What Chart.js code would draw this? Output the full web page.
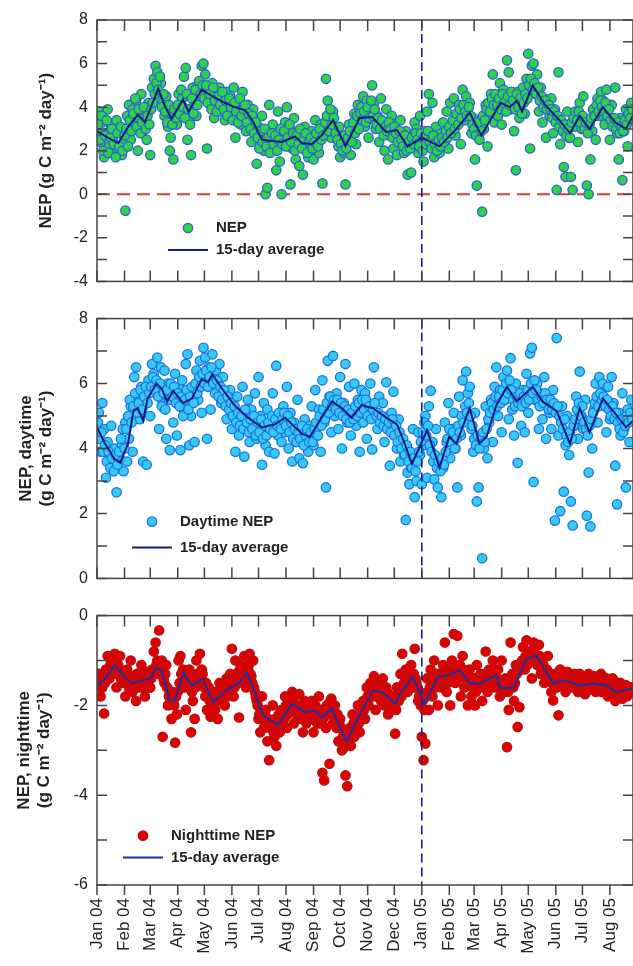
<!DOCTYPE html>
<html>
<head>
<meta charset="utf-8">
<script src="https://cdn.jsdelivr.net/npm/chart.js@4.4.1/dist/chart.umd.min.js"></script>
<style>
  body { margin: 0; background: #fff; }
  #wrap { position: relative; width: 633px; height: 966px; overflow: hidden; }
  canvas { position: absolute; left: 0; }
</style>
</head>
<body>
<div id="wrap">
  <canvas id="nepChart" width="633" height="300" style="top:0"></canvas>
  <canvas id="dayChart" width="633" height="297" style="top:300px"></canvas>
  <canvas id="nightChart" width="633" height="369" style="top:597px"></canvas>
</div>
<script>
// days counted from 1 Jan 2004
const monthStartDays = [0, 31, 60, 91, 121, 152, 182, 213, 244, 274, 305, 335, 366, 397, 425, 456, 486, 517, 547, 578];
const monthLabels = ['Jan 04', 'Feb 04', 'Mar 04', 'Apr 04', 'May 04', 'Jun 04', 'Jul 04', 'Aug 04', 'Sep 04', 'Oct 04', 'Nov 04', 'Dec 04',
  'Jan 05', 'Feb 05', 'Mar 05', 'Apr 05', 'May 05', 'Jun 05', 'Jul 05', 'Aug 05'];
const yearBreakDay = 366;
const lastDay = 604;

// daily observations, split into even days (0, 2, 4 ...) and odd days (1, 3, 5 ...)
const obsStepDays = 2;

const nepEven = [
  2.9, 3.8, 2.4, 3.3, 1.7, 2.8, 3.9, 2.2, 3.1, 2.6, 1.9, 3.4, 2.1, 2.9, 1.8,
  2.4, -0.75, 3.6, 4.1, 2.5, 3.9, 3.2, 4.3, 2.0, 3.5, 4.6, 2.9, 3.8, 2.5, 4.2,
  1.8, 4.9, 5.3, 5.9, 5.6, 4.4, 5.1, 4.2, 3.6, 4.5, 3.1, 2.0, 3.7, 1.6, 4.0,
  3.2, 4.6, 3.9, 4.4, 5.4, 5.8, 2.5, 3.4, 1.8, 4.9, 4.2, 3.6, 5.0, 4.5, 5.9,
  6.0, 5.5, 2.1, 4.8, 4.3, 5.1, 3.5, 4.6, 4.0, 4.9, 3.8, 4.4, 3.4, 4.7, 4.1,
  4.5, 3.6, 4.9, 2.6, 3.9, 4.3, 3.2, 4.7, 3.7, 2.9, 4.1, 3.5, 2.4, 3.9, 3.1,
  1.4, 3.1, 2.5, 3.6, 2.0, 0.0, 0.3, 4.1, 2.7, 3.2, 2.2, 1.1, 3.8, 1.5, 0.0,
  2.4, 3.3, 4.0, 2.8, 0.45, 2.1, 3.5, 1.6, 2.9, 1.3, 2.6, 0.9, 3.1, 2.2, 1.7,
  2.0, 2.9, 1.6, 3.4, 2.5, 1.9, 3.2, 0.5, 2.8, 5.3, 4.3, 3.5, 2.6, 3.8, 2.9,
  3.0, 2.2, 1.7, 2.6, 1.9, 0.45, 2.4, 3.2, 1.8, 2.9, 3.7, 2.3, 4.1, 3.3, 4.0,
  4.5, 3.1, 4.3, 2.6, 3.8, 5.0, 4.2, 3.0, 3.6, 2.4, 4.4, 3.3, 2.0, 3.9, 1.6,
  2.7, 3.6, 2.1, 3.2, 1.8, 2.6, 3.4, 2.3, 1.9, 2.9, 0.9, 2.2, 1.0, 2.7, 3.3,
  3.0, 1.9, 3.6, 2.4, 1.5, 2.9, 3.8, 4.6, 2.2, 4.2, 1.7, 3.1, 2.5, 1.9, 2.8,
  3.3, 2.4, 3.8, 2.1, 4.2, 3.0, 4.4, 2.7, 3.6, 4.1, 2.3, 4.8, 3.4, 4.5, 3.9,
  4.2, 2.8, 3.5, 1.6, 0.4, 2.6, 3.2, -0.8, 3.0, 4.1, 2.2, 3.7, 4.6, 5.5, 3.3,
  4.5, 3.6, 5.1, 3.2, 4.8, 4.0, 6.15, 5.6, 3.9, 4.4, 2.9, 1.1, 4.7, 3.5, 4.2,
  4.9, 3.7, 5.3, 6.45, 2.1, 5.9, 6.0, 4.6, 5.5, 3.8, 4.9, 3.3, 4.4, 2.6, 4.0,
  3.6, 4.4, 2.8, 3.9, 0.2, 5.6, 2.3, 3.3, 1.25, 0.8, 3.8, 2.6, 0.8, 0.2, 3.1,
  3.7, 2.4, 4.2, 3.0, 4.5, 3.4, 0.4, 0.0, 1.6, 2.9, 3.8, 2.5, 4.4, 3.6, 4.7,
  4.3, 3.2, 4.8, 3.6, 2.5, 4.1, 3.3, 4.9, 2.8, 1.6, 3.5, 0.65, 2.9, 3.9, 2.2, 3.4, 4.2
];
const nepOdd = [
  3.2, 2.5, 3.6, 2.0, 2.7, 3.4, 1.9, 2.6, 3.0, 2.3, 1.7, 2.8, 2.2, 3.1, 2.0,
  2.7, 3.0, 2.2, 3.4, 2.9, 3.7, 4.4, 3.1, 3.9, 2.8, 3.3, 4.0, 3.0, 3.6, 3.2,
  3.9, 4.2, 4.6, 5.1, 4.8, 5.4, 4.0, 4.6, 3.8, 3.3, 4.1, 2.6, 3.2, 3.9, 3.5,
  4.1, 3.7, 4.8, 4.0, 3.5, 4.6, 3.9, 3.2, 4.4, 3.7, 4.8, 4.1, 5.2, 4.6, 5.0,
  4.4, 5.0, 4.2, 4.6, 3.9, 4.9, 4.3, 3.8, 4.5, 4.1, 4.7, 3.9, 4.3, 3.6, 4.4,
  4.0, 3.4, 4.2, 3.8, 3.3, 4.4, 3.6, 3.9, 4.1, 3.3, 3.7, 3.0, 3.6, 2.8, 3.3,
  2.6, 2.1, 2.9, 2.4, 3.0, 2.2, 2.6, 1.9, 2.8, 2.3, 2.7, 2.0, 2.5, 3.0, 2.3,
  2.9, 2.2, 2.6, 3.2, 2.4, 2.8, 2.0, 2.7, 2.3, 3.0, 2.1, 2.5, 2.8, 1.9, 2.4,
  2.6, 2.1, 2.4, 2.8, 2.2, 3.0, 2.5, 2.7, 3.3, 3.6, 2.9, 3.9, 3.2, 3.5, 2.8,
  2.5, 3.1, 2.3, 2.0, 2.7, 2.1, 2.6, 2.9, 2.4, 3.3, 2.8, 3.6, 3.0, 3.7, 3.4,
  3.8, 3.3, 4.0, 3.5, 4.3, 3.6, 3.9, 3.2, 3.5, 3.0, 3.4, 2.7, 3.1, 2.9, 3.3,
  3.0, 2.6, 3.1, 2.8, 2.4, 2.9, 2.5, 2.2, 2.7, 2.0, 2.4, 2.1, 2.6, 2.3, 2.8,
  2.5, 2.2, 2.8, 2.0, 2.6, 2.3, 2.9, 2.4, 2.1, 2.7, 2.3, 2.0, 2.5, 2.2, 2.6,
  2.4, 2.9, 2.6, 3.1, 2.8, 3.4, 3.0, 3.7, 3.2, 3.9, 3.5, 4.1, 3.8, 3.6, 4.0,
  3.6, 3.2, 3.0, 2.7, 3.3, 2.5, 2.9, 3.6, 3.4, 3.9, 4.2, 3.8, 4.4, 4.1, 4.6,
  4.1, 4.4, 3.9, 4.6, 4.2, 3.8, 4.5, 4.1, 4.7, 4.3, 3.9, 4.6, 4.0, 4.4, 3.7,
  4.2, 4.6, 4.4, 5.0, 5.3, 4.8, 5.1, 4.6, 4.9, 4.3, 4.5, 4.0, 4.3, 3.9, 4.1,
  3.9, 3.5, 3.8, 3.3, 3.6, 3.1, 3.4, 2.9, 3.2, 2.7, 3.0, 2.6, 3.3, 3.5, 3.8,
  3.4, 3.8, 3.3, 3.6, 3.0, 3.3, 2.8, 3.2, 3.5, 3.9, 3.6, 4.1, 3.8, 4.3, 4.0,
  3.8, 4.2, 3.6, 3.9, 3.4, 3.1, 3.5, 3.0, 3.3, 2.8, 3.1, 2.9, 3.4, 3.2, 3.7, 3.5, 3.9
];
const nepAvgDays = [0, 12, 24, 35, 46, 54, 69, 76, 84, 97, 103, 118, 130, 144, 155, 167, 175, 186, 197, 208,
  223, 231, 242, 253, 266, 280, 296, 310, 326, 338, 350, 366, 386, 405, 420, 433, 455, 465, 473, 479,
  491, 505, 521, 533, 544, 555, 570, 584, 596, 604];
const nepAvg = [2.9, 2.6, 2.35, 3.1, 3.65, 3.3, 4.85, 4.1, 3.45, 4.35, 3.8, 4.8, 4.5, 4.2, 4.0, 3.85, 3.4, 2.5, 2.45, 2.4,
  2.65, 2.35, 2.3, 2.7, 3.4, 2.2, 3.5, 3.55, 2.85, 2.95, 2.2, 2.6, 2.2, 3.0, 3.75, 2.7, 4.2, 4.0, 4.3, 3.8,
  5.0, 4.1, 3.4, 2.8, 3.6, 3.0, 4.0, 3.3, 3.0, 3.6];

const dayEven = [
  4.4, 5.1, 3.9, 5.4, 4.6, 3.1, 4.2, 3.8, 4.7, 3.5, 4.0, 2.65, 3.4, 3.7, 4.1,
  3.3, 4.8, 3.6, 4.3, 5.3, 3.9, 6.2, 6.5, 5.6, 4.9, 5.9, 3.6, 5.4, 3.5, 6.1,
  5.0, 6.6, 6.3, 5.8, 6.8, 4.6, 6.5, 5.4, 6.4, 4.3, 6.0, 3.95, 5.7, 4.8, 6.3,
  4.4, 5.9, 3.95, 6.1, 5.2, 6.6, 6.9, 4.1, 5.0, 5.8, 4.2, 6.4, 5.5, 6.7, 5.1,
  7.1, 6.8, 4.3, 6.5, 5.2, 6.9, 6.0, 6.4, 5.8, 6.6, 5.4, 6.2, 5.7, 4.9, 5.6,
  5.8, 4.6, 5.3, 3.9, 5.6, 4.4, 5.1, 5.9, 3.75, 4.9, 5.5, 4.2, 5.2, 4.7, 5.7,
  4.3, 6.2, 5.0, 3.5, 5.4, 4.1, 5.2, 3.9, 4.6, 5.7, 3.85, 6.55, 4.4, 5.0, 4.2,
  5.3, 4.5, 5.9, 4.0, 5.1, 3.6, 4.8, 4.2, 5.5, 3.7, 4.6, 3.55, 4.9, 4.1, 3.9,
  4.7, 5.3, 4.1, 5.8, 4.4, 5.2, 3.9, 6.1, 4.8, 2.8, 6.7, 5.6, 4.5, 6.85, 5.0,
  5.7, 4.6, 6.2, 4.0, 5.4, 6.6, 4.8, 5.9, 4.4, 5.1, 6.0, 4.7, 5.5, 3.9, 5.8,
  4.8, 5.7, 4.3, 5.3, 6.0, 3.97, 6.5, 5.1, 4.6, 5.6, 4.9, 5.4, 4.2, 6.04, 5.0,
  3.47, 5.1, 5.75, 4.4, 4.0, 4.9, 3.6, 4.3, 3.8, 1.8, 3.26, 2.9, 3.4, 4.6, 2.5,
  3.0, 4.5, 3.8, 2.9, 4.1, 5.0, 3.1, 5.3, 5.78, 4.2, 3.05, 4.6, 2.8, 3.6, 2.5,
  3.4, 4.8, 4.2, 5.4, 3.7, 4.6, 5.1, 4.0, 2.8, 5.6, 4.4, 6.1, 5.0, 6.37, 5.7,
  5.9, 4.6, 3.9, 5.1, 2.37, 2.8, 4.3, 0.62, 4.0, 5.3, 3.7, 4.8, 5.5, 4.2, 5.9,
  6.5, 5.0, 5.8, 4.5, 6.2, 5.5, 6.4, 4.9, 6.78, 5.2, 4.4, 6.0, 3.56, 5.6, 4.7,
  5.8, 4.5, 6.3, 5.1, 6.93, 7.1, 2.97, 5.5, 6.0, 4.6, 5.7, 4.9, 6.2, 4.3, 5.3,
  5.1, 4.6, 5.8, 1.78, 7.4, 4.4, 2.07, 5.3, 2.67, 4.1, 5.0, 3.8, 2.37, 1.63, 4.7,
  5.6, 4.3, 6.37, 5.0, 4.6, 5.5, 1.93, 3.26, 1.6, 4.0, 5.2, 6.0, 4.8, 6.2, 5.7,
  6.0, 5.3, 4.5, 5.9, 4.9, 6.2, 5.4, 3.47, 2.28, 5.1, 4.4, 5.7, 4.6, 2.8, 5.2, 4.2, 5.5
];
const dayOdd = [
  4.8, 4.3, 4.5, 3.9, 4.1, 3.6, 3.9, 3.4, 3.7, 3.3, 3.8, 3.5, 3.9, 4.3, 4.6,
  4.0, 4.6, 5.0, 5.5, 4.8, 5.3, 5.7, 5.1, 5.4, 5.8, 5.2, 5.6, 5.9, 5.4, 5.7,
  5.9, 6.2, 5.8, 6.1, 5.6, 6.0, 5.3, 5.7, 5.2, 5.8, 5.5, 6.0, 5.6, 5.9, 5.4,
  5.7, 5.3, 5.6, 5.0, 5.5, 5.8, 5.2, 5.6, 5.9, 5.4, 6.0, 5.7, 6.2, 5.9, 6.3,
  6.0, 6.4, 5.9, 6.2, 6.5, 6.0, 5.7, 6.1, 5.6, 5.9, 5.5, 5.8, 5.3, 5.6, 5.2,
  5.4, 5.0, 5.3, 4.8, 5.1, 4.7, 5.0, 4.6, 5.2, 4.8, 4.5, 4.9, 4.6, 5.0, 4.4,
  4.8, 4.5, 4.9, 4.3, 4.7, 4.4, 4.8, 4.6, 5.0, 4.5, 4.9, 4.7, 5.1, 4.6, 4.9,
  5.1, 4.7, 5.0, 4.5, 4.8, 4.3, 4.6, 4.2, 4.5, 4.3, 4.7, 4.1, 4.4, 4.6, 4.2,
  4.5, 4.2, 4.6, 4.8, 4.4, 5.0, 4.7, 5.2, 4.9, 5.4, 5.1, 5.6, 5.3, 5.5, 5.2,
  5.5, 5.1, 5.4, 5.0, 5.3, 4.9, 5.2, 4.8, 5.1, 4.9, 5.3, 5.0, 5.4, 5.1, 5.5,
  5.2, 5.5, 5.0, 5.3, 4.9, 5.2, 5.4, 5.0, 5.1, 4.8, 5.0, 4.7, 4.9, 4.6, 4.8,
  4.5, 4.9, 4.4, 4.7, 4.2, 4.5, 4.0, 4.3, 3.8, 4.1, 3.6, 3.9, 3.4, 3.7, 3.3,
  3.6, 3.9, 4.2, 4.5, 4.8, 4.4, 4.7, 4.1, 3.9, 3.6, 3.8, 3.4, 3.6, 3.3, 3.7,
  3.5, 3.9, 4.3, 4.6, 4.2, 4.5, 4.0, 4.3, 4.7, 4.5, 5.0, 4.8, 5.3, 5.1, 5.4,
  5.0, 4.7, 4.3, 4.1, 4.4, 4.0, 4.3, 4.5, 4.2, 4.6, 4.9, 5.1, 5.4, 5.2, 5.6,
  5.3, 5.6, 5.4, 5.8, 5.5, 6.0, 5.7, 6.1, 5.8, 5.5, 5.3, 5.6, 5.4, 5.7, 5.3,
  5.6, 5.4, 5.8, 5.5, 6.0, 5.7, 6.1, 5.8, 5.5, 5.3, 5.6, 5.4, 5.7, 5.5, 5.2,
  5.5, 5.2, 5.4, 5.1, 5.3, 5.0, 4.8, 4.6, 4.9, 4.4, 4.2, 4.5, 4.3, 4.7, 4.9,
  5.2, 5.4, 5.0, 5.3, 4.8, 4.6, 4.4, 4.7, 4.9, 5.1, 5.4, 5.6, 5.3, 5.7, 5.5,
  5.6, 5.3, 5.5, 5.2, 5.0, 5.3, 4.9, 5.1, 4.8, 4.6, 4.9, 4.5, 4.7, 5.0, 4.8, 5.1, 4.9
];
const dayAvgDays = [0, 9, 20, 26, 35, 41, 46, 52, 57, 67, 73, 79, 86, 97, 107, 118, 125, 130, 141, 155,
  170, 186, 200, 212, 231, 240, 253, 265, 276, 287, 298, 311, 326, 338, 345, 355, 372, 386, 397, 405,
  420, 431, 439, 450, 462, 473, 491, 502, 518, 533, 544, 555, 570, 585, 596, 604];
const dayAvg = [4.65, 4.15, 3.67, 3.56, 4.15, 5.15, 5.24, 4.85, 5.54, 6.0, 5.84, 5.45, 5.78, 5.4, 5.54, 6.13, 6.04, 6.28, 5.84, 5.33,
  4.95, 4.65, 4.74, 4.95, 4.45, 4.36, 4.95, 5.45, 5.24, 4.95, 5.33, 5.24, 4.95, 4.74, 4.27, 3.53, 4.56, 3.41, 4.36, 4.15,
  5.24, 4.15, 4.36, 5.33, 5.9, 5.45, 5.9, 5.45, 5.15, 4.15, 5.24, 4.5, 5.54, 5.04, 4.65, 4.85];

const nightEven = [
  -1.5, -1.3, -1.8, -1.6, -2.18, -1.2, -0.9, -1.4, -1.0, -1.3, -0.85, -1.6, -1.1, -0.9, -1.35,
  -1.5, -1.8, -1.2, -1.6, -1.0, -1.7, -1.4, -1.9, -1.3, -1.6, -1.1, -1.5, -1.8, -1.25, -1.6,
  -1.6, -1.2, -0.8, -0.6, -1.0, -0.33, -1.3, -2.7, -1.5, -1.1, -2.0, -1.7, -2.3, -1.9, -2.83,
  -2.2, -1.0, -0.9, -1.3, -1.6, -2.1, -1.4, -1.2, -2.6, -1.9, -2.3, -1.0, -1.45, -0.85, -1.2,
  -1.5, -1.8, -2.1, -1.6, -2.25, -1.9, -2.0, -1.7, -2.3, -1.5, -1.9, -1.6, -2.0, -1.4, -1.75,
  -1.3, -0.74, -1.8, -1.0, -1.5, -2.27, -1.1, -1.4, -0.9, -1.6, -1.2, -0.85, -1.35, -1.0, -1.7,
  -1.9, -2.3, -2.6, -1.8, -2.5, -2.1, -2.8, -3.22, -2.4, -2.0, -2.7, -2.9, -2.3, -2.6, -2.1,
  -2.2, -1.8, -2.5, -1.9, -2.1, -1.7, -2.4, -2.0, -2.3, -1.75, -2.2, -2.6, -1.9, -2.4, -2.05,
  -2.3, -1.9, -2.6, -2.0, -2.4, -1.8, -2.2, -3.5, -3.67, -2.5, -2.1, -3.3, -1.85, -2.4, -2.0,
  -2.5, -2.8, -2.3, -3.0, -2.95, -3.56, -3.8, -2.6, -2.9, -2.2, -2.7, -2.4, -2.0, -2.6, -2.2,
  -1.9, -2.3, -1.6, -2.0, -1.5, -1.8, -1.35, -2.1, -1.7, -1.5, -1.9, -1.4, -2.0, -1.6, -2.2,
  -2.1, -1.8, -2.0, -2.63, -1.6, -1.9, -1.3, -0.85, -1.5, -1.2, -1.7, -1.4, -1.1, -1.6, -0.74,
  -1.5, -1.9, -1.7, -2.7, -3.22, -2.85, -1.4, -2.1, -1.2, -1.8, -1.0, -1.5, -2.0, -1.3, -1.6,
  -1.1, -0.6, -1.7, -1.3, -2.0, -1.0, -0.41, -1.5, -0.45, -1.2, -1.8, -0.9, -1.6, -1.3, -2.0,
  -1.2, -1.8, -1.4, -2.0, -1.1, -1.6, -1.3, -1.9, -1.5, -0.8, -1.7, -1.2, -1.45, -1.0, -1.6,
  -1.5, -1.2, -1.8, -1.0, -1.6, -1.4, -2.93, -2.1, -0.6, -1.3, -1.9, -1.1, -2.48, -2.04, -1.2,
  -0.7, -1.2, -0.55, -1.0, -0.8, -1.4, -0.6, -0.9, -1.1, -0.65, -1.3, -1.0, -1.5, -1.2, -0.9,
  -1.4, -1.7, -1.89, -1.3, -1.6, -2.22, -1.2, -1.5, -1.35, -1.7, -1.25, -1.55, -1.4, -1.6, -1.3,
  -1.5, -1.7, -1.3, -1.6, -1.4, -1.75, -1.45, -1.3, -1.6, -1.5, -1.35, -1.7, -1.45, -1.55, -1.3,
  -1.5, -1.65, -1.4, -1.8, -1.55, -1.7, -1.45, -1.9, -1.6, -1.75, -1.5, -1.85, -1.65, -1.55, -1.75, -1.6, -1.7
];
const nightOdd = [
  -1.5, -1.4, -1.6, -1.3, -1.5, -1.2, -1.3, -1.1, -1.0, -1.2, -1.1, -1.3, -1.2, -1.4, -1.3,
  -1.4, -1.5, -1.3, -1.6, -1.5, -1.4, -1.6, -1.3, -1.5, -1.4, -1.6, -1.3, -1.5, -1.4, -1.6,
  -1.4, -1.3, -1.2, -1.1, -1.3, -1.2, -1.0, -1.4, -1.3, -1.6, -1.8, -1.9, -1.7, -2.0, -1.8,
  -1.7, -1.5, -1.3, -1.2, -1.4, -1.3, -1.6, -1.5, -1.7, -1.4, -1.6, -1.3, -1.5, -1.4, -1.3,
  -1.6, -1.5, -1.8, -1.9, -2.0, -1.8, -2.1, -1.9, -1.7, -1.8, -1.6, -1.7, -1.5, -1.8, -1.6,
  -1.5, -1.4, -1.6, -1.3, -1.5, -1.2, -1.4, -1.3, -1.2, -1.4, -1.1, -1.3, -1.5, -1.6, -1.8,
  -2.0, -2.2, -2.1, -2.3, -2.2, -2.4, -2.3, -2.5, -2.4, -2.6, -2.3, -2.5, -2.2, -2.4, -2.1,
  -2.3, -2.0, -2.2, -1.9, -2.1, -2.0, -1.8, -2.1, -2.2, -2.0, -2.3, -2.1, -2.2, -2.0, -2.3,
  -2.1, -2.2, -2.0, -2.3, -2.2, -2.4, -2.1, -2.3, -2.2, -2.0, -2.2, -1.9, -2.1, -2.0, -2.2,
  -2.2, -2.4, -2.5, -2.7, -2.6, -2.8, -2.7, -2.5, -2.6, -2.4, -2.5, -2.3, -2.4, -2.2, -2.3,
  -2.1, -1.9, -1.8, -1.7, -1.8, -1.6, -1.7, -1.8, -1.6, -1.7, -1.9, -1.6, -1.8, -1.7, -1.9,
  -1.9, -2.0, -1.8, -2.1, -1.9, -1.7, -1.8, -1.6, -1.7, -1.5, -1.6, -1.4, -1.5, -1.3, -1.4,
  -1.6, -1.8, -2.0, -1.9, -2.1, -1.8, -1.7, -1.6, -1.5, -1.4, -1.6, -1.3, -1.5, -1.4, -1.3,
  -1.4, -1.3, -1.5, -1.2, -1.4, -1.3, -1.1, -1.2, -1.4, -1.1, -1.3, -1.2, -1.4, -1.5, -1.3,
  -1.5, -1.6, -1.4, -1.7, -1.5, -1.6, -1.4, -1.5, -1.3, -1.6, -1.4, -1.5, -1.3, -1.4, -1.2,
  -1.4, -1.6, -1.5, -1.7, -1.6, -1.5, -1.7, -1.6, -1.4, -1.6, -1.5, -1.3, -1.2, -1.1, -1.0,
  -1.0, -0.9, -1.1, -0.8, -1.0, -0.9, -0.8, -1.0, -1.1, -0.9, -1.2, -1.1, -1.3, -1.2, -1.4,
  -1.3, -1.5, -1.4, -1.6, -1.5, -1.4, -1.5, -1.3, -1.5, -1.4, -1.6, -1.5, -1.4, -1.5, -1.6,
  -1.6, -1.5, -1.4, -1.6, -1.5, -1.7, -1.6, -1.5, -1.4, -1.6, -1.5, -1.4, -1.6, -1.5, -1.7,
  -1.5, -1.6, -1.7, -1.5, -1.6, -1.4, -1.6, -1.7, -1.5, -1.8, -1.6, -1.7, -1.6, -1.8, -1.7, -1.6, -1.7
];
const nightAvgDays = [0, 9, 20, 28, 39, 51, 60, 67, 73, 82, 88, 97, 107, 119, 131, 146, 159, 169, 178, 187,
  204, 220, 234, 245, 253, 265, 281, 294, 311, 322, 336, 343, 356, 369, 384, 395, 409, 420, 431, 450,
  454, 469, 484, 495, 504, 514, 529, 544, 559, 574, 585, 604];
const nightAvg = [-1.56, -1.41, -1.11, -1.29, -1.51, -1.44, -1.41, -1.16, -1.22, -1.89, -1.89, -1.27, -1.56, -1.41, -1.93, -1.67, -1.51, -1.27, -1.71, -2.22,
  -2.44, -1.96, -2.15, -2.11, -2.27, -2.07, -2.81, -2.29, -1.67, -1.71, -1.96, -1.71, -1.37, -1.96, -1.37, -1.33, -1.22, -1.51, -1.51, -1.33,
  -1.6, -1.62, -0.96, -0.89, -1.18, -1.51, -1.44, -1.56, -1.51, -1.56, -1.71, -1.62];

const FONT = '"Liberation Sans", Arial, sans-serif';
Chart.defaults.font.family = FONT;
Chart.defaults.color = '#222';

function toPoints(evenVals, oddVals) {
  const pts = evenVals.map((v, i) => ({ x: i * obsStepDays, y: v }));
  oddVals.forEach((v, i) => pts.push({ x: i * obsStepDays + 1, y: v }));
  return pts;
}
function toLine(days, values) {
  return days.map((d, i) => ({ x: d, y: values[i] }));
}

// frame, inward ticks and the dashed reference lines
const frameTicks = {
  id: 'frameTicks',
  beforeDatasetsDraw(chart, args, opts) {
    if (!opts.zeroLine) return;
    const { ctx, chartArea: a, scales: { y } } = chart;
    const y0 = y.getPixelForValue(0);
    ctx.save();
    ctx.strokeStyle = '#e63a2e';
    ctx.lineWidth = 2;
    ctx.setLineDash([13, 7]);
    ctx.beginPath();
    ctx.moveTo(a.left, y0);
    ctx.lineTo(a.right, y0);
    ctx.stroke();
    ctx.restore();
  },
  afterDatasetsDraw(chart, args, opts) {
    const { ctx, chartArea: a, scales: { x, y } } = chart;
    ctx.save();
    const xb = x.getPixelForValue(yearBreakDay);
    ctx.strokeStyle = '#1b1f8a';
    ctx.lineWidth = 1.6;
    ctx.setLineDash([9, 5]);
    ctx.beginPath();
    ctx.moveTo(xb, a.top);
    ctx.lineTo(xb, a.bottom);
    ctx.stroke();
    ctx.setLineDash([]);
    ctx.strokeStyle = '#444';
    ctx.lineWidth = 1.5;
    ctx.strokeRect(a.left, a.top, a.right - a.left, a.bottom - a.top);
    ctx.beginPath();
    monthStartDays.forEach(d => {
      const px = x.getPixelForValue(d);
      ctx.moveTo(px, a.top);
      ctx.lineTo(px, a.top + 11);
      ctx.moveTo(px, a.bottom);
      ctx.lineTo(px, a.bottom + (opts.bottomOut ? 10 : -11));
    });
    for (let v = y.min; v <= y.max; v++) {
      const py = y.getPixelForValue(v);
      ctx.moveTo(a.left, py);
      ctx.lineTo(a.left + 10, py);
      ctx.moveTo(a.right, py);
      ctx.lineTo(a.right - 10, py);
    }
    ctx.stroke();
    ctx.restore();
  }
};

const panelLegend = {
  id: 'panelLegend',
  afterDraw(chart, args, opts) {
    const { ctx, chartArea: a } = chart;
    const avg = chart.data.datasets[0];
    const pts = chart.data.datasets[1];
    const mx = a.left + opts.x;
    const y1 = a.top + opts.y;
    const y2 = y1 + opts.gap;
    ctx.save();
    ctx.beginPath();
    ctx.arc(mx, y1, pts.pointRadius, 0, Math.PI * 2);
    ctx.fillStyle = pts.backgroundColor;
    ctx.fill();
    ctx.lineWidth = pts.borderWidth;
    ctx.strokeStyle = pts.borderColor;
    ctx.stroke();
    ctx.beginPath();
    ctx.moveTo(mx - 20, y2);
    ctx.lineTo(mx + 20, y2);
    ctx.lineWidth = avg.borderWidth;
    ctx.strokeStyle = avg.borderColor;
    ctx.stroke();
    ctx.fillStyle = '#222';
    ctx.font = 'bold 15px ' + FONT;
    ctx.textBaseline = 'middle';
    ctx.fillText(pts.label, mx + 28, y1);
    ctx.fillText(avg.label, mx + 28, y2);
    ctx.restore();
  }
};

function yAxis(min, max, title, titlePad) {
  return {
    type: 'linear', min: min, max: max,
    afterFit: s => { s.width = 97; },
    grid: { display: false, drawTicks: false },
    border: { display: false },
    ticks: {
      stepSize: 1, padding: 9, color: '#222', font: { size: 16 },
      callback: v => (v % 2 === 0 ? v : '')
    },
    title: {
      display: true, text: title, color: '#222',
      font: { size: 17, weight: 'bold' },
      padding: { top: titlePad, bottom: 0 }
    }
  };
}

function xAxis(showLabels) {
  const axis = {
    type: 'linear', min: 0, max: lastDay,
    display: showLabels,
    afterBuildTicks: s => { s.ticks = monthStartDays.map(v => ({ value: v })); },
    grid: { display: false, drawTicks: false },
    border: { display: false },
    ticks: {
      autoSkip: false, minRotation: 90, maxRotation: 90, padding: 13,
      color: '#222', font: { size: 17 },
      callback: v => monthLabels[monthStartDays.indexOf(v)]
    }
  };
  if (showLabels) {
    axis.afterFit = s => {
      s.height = 81;
      s.paddingLeft = 0;
      s.paddingRight = 0;
    };
  }
  return axis;
}

function makePanel(id, cfg) {
  new Chart(document.getElementById(id), {
    type: 'scatter',
    data: {
      datasets: [
        {
          type: 'line', label: '15-day average', data: cfg.avg,
          borderColor: cfg.lineColor, borderWidth: 2, pointRadius: 0, tension: 0, fill: false
        },
        {
          label: cfg.label, data: cfg.points,
          pointRadius: 4.7, backgroundColor: cfg.fill, borderColor: cfg.edge, borderWidth: 1.3
        }
      ]
    },
    options: {
      responsive: false,
      animation: false,
      layout: { padding: cfg.padding, autoPadding: false },
      scales: { x: xAxis(cfg.showX), y: yAxis(cfg.min, cfg.max, cfg.title, cfg.titlePad) },
      plugins: {
        legend: { display: false },
        tooltip: { enabled: false },
        frameTicks: { zeroLine: cfg.zeroLine, bottomOut: cfg.showX },
        panelLegend: cfg.legend
      }
    },
    plugins: [frameTicks, panelLegend]
  });
}

makePanel('nepChart', {
  label: 'NEP',
  points: toPoints(nepEven, nepOdd), avg: toLine(nepAvgDays, nepAvg),
  fill: '#2fd04a', edge: '#2a62d6', lineColor: '#141a80',
  min: -4, max: 8, title: 'NEP (g C m\u207B\u00B2 day\u207B\u00B9)', titlePad: 36,
  padding: { top: 20, right: 0, bottom: 10, left: 0 },
  showX: false, zeroLine: true,
  legend: { x: 91, y: 208, gap: 22 }
});

makePanel('dayChart', {
  label: 'Daytime NEP',
  points: toPoints(dayEven, dayOdd), avg: toLine(dayAvgDays, dayAvg),
  fill: '#38c8f6', edge: '#1a72e0', lineColor: '#141a80',
  min: 0, max: 8, title: ['NEP, daytime', '(g C m\u207B\u00B2 day\u207B\u00B9)'], titlePad: 16,
  padding: { top: 17, right: 0, bottom: 10, left: 0 },
  showX: false, zeroLine: false,
  legend: { x: 55, y: 203, gap: 26 }
});

makePanel('nightChart', {
  label: 'Nighttime NEP',
  points: toPoints(nightEven, nightOdd), avg: toLine(nightAvgDays, nightAvg),
  fill: '#e00000', edge: '#b81010', lineColor: '#1f2e9e',
  min: -6, max: 0, title: ['NEP, nighttime', '(g C m\u207B\u00B2 day\u207B\u00B9)'], titlePad: 14,
  padding: { top: 18, right: 0, bottom: 0, left: 0 },
  showX: true, zeroLine: false,
  legend: { x: 46, y: 220, gap: 22 }
});
</script>
</body>
</html>
